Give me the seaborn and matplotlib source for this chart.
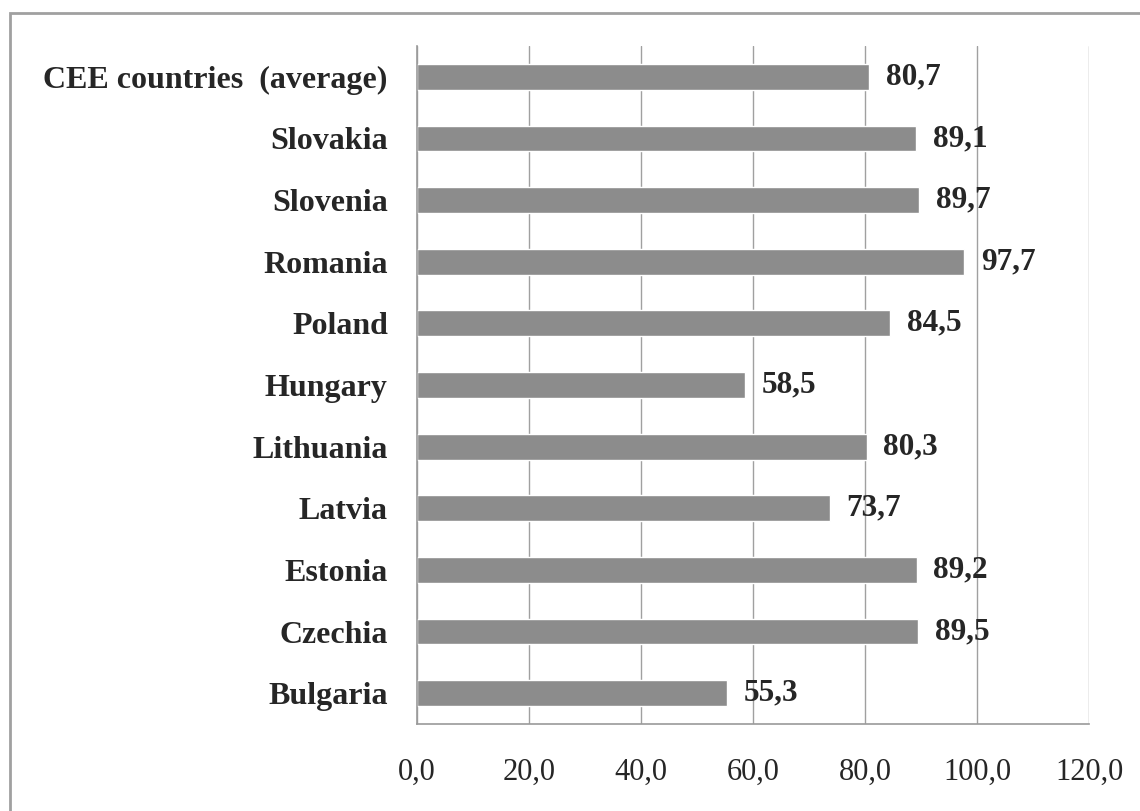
import matplotlib
matplotlib.use("Agg")
import matplotlib.pyplot as plt
import seaborn as sns
import pandas as pd
from matplotlib.patches import Rectangle

# data (top to bottom as drawn)
countries = ["CEE countries  (average)", "Slovakia", "Slovenia", "Romania", "Poland",
             "Hungary", "Lithuania", "Latvia", "Estonia", "Czechia", "Bulgaria"]
values = [80.7, 89.1, 89.7, 97.7, 84.5, 58.5, 80.3, 73.7, 89.2, 89.5, 55.3]
xticks = [0, 20, 40, 60, 80, 100, 120]

df = pd.DataFrame({"country": countries, "value": values})

sns.set_style("white")
plt.rcParams["font.family"] = ["Liberation Serif", "DejaVu Serif"]

fig = plt.figure(figsize=(11.4, 8.11), dpi=100)
ax = fig.add_axes([417 / 1140, 1 - 724 / 811, (1089 - 417) / 1140, (724 - 46) / 811])

sns.barplot(data=df, y="country", x="value", color="#8c8c8c", saturation=1,
            width=0.42, orient="h", ax=ax)

ax.set_xlim(0, 120)
ax.set_ylim(len(countries) - 0.5, -0.5)
ax.set_xticks(xticks)
ax.set_xticklabels([f"{t:.1f}".replace(".", ",") for t in xticks], fontsize=22)
ax.set_xlabel("")
ax.set_ylabel("")

# gridlines
ax.grid(axis="x", color="#a0a0a0", linewidth=1)
ax.set_axisbelow(True)

for s in ["top", "right"]:
    ax.spines[s].set_visible(False)
for s in ["left", "bottom"]:
    ax.spines[s].set_color("#9a9a9a")
    ax.spines[s].set_linewidth(1.2)

# y tick marks at category boundaries, labels at centers
ax.set_yticks(range(len(countries)))
ax.set_yticklabels(countries, fontsize=23, fontweight="bold")
ax.tick_params(axis="y", length=0, pad=21)
ax.set_yticks([i - 0.5 for i in range(len(countries) + 1)], minor=True)
ax.tick_params(axis="y", which="minor", length=6, color="#9a9a9a", width=1)
ax.tick_params(axis="x", length=6, color="#9a9a9a", width=1, pad=18)

for i, v in enumerate(values):
    ax.text(v + 3.0, i, f"{v:.1f}".replace(".", ","), va="center", ha="left",
            fontsize=22.5, fontweight="bold")

# outer border
fig.patches.append(Rectangle((10 / 1140, -0.05), 1.2, 1 - 13 / 811 + 0.05,
                             transform=fig.transFigure, fill=False,
                             edgecolor="#a0a0a0", linewidth=2))

fig.savefig("out.png", dpi=100)
